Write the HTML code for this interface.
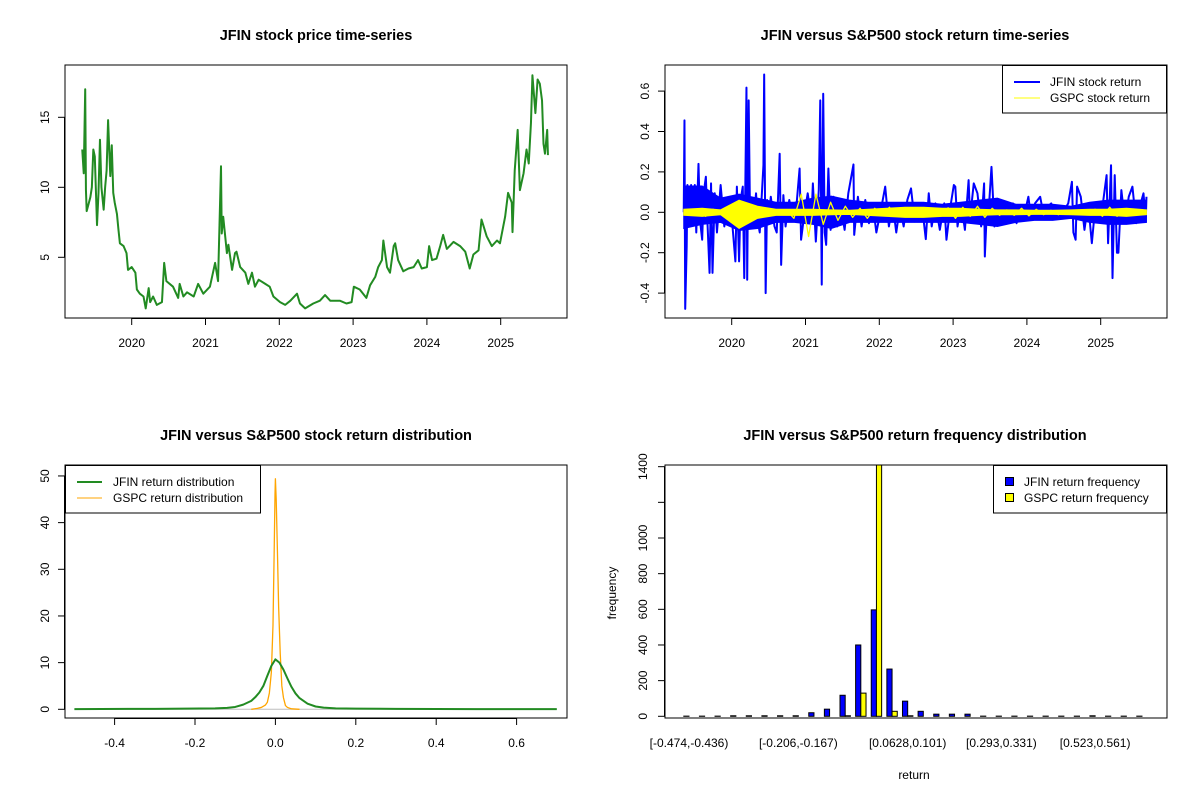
<!DOCTYPE html>
<html><head><meta charset="utf-8"><style>
html,body{margin:0;padding:0;background:#fff;}
svg{display:block;font-family:"Liberation Sans",Arial,sans-serif;}
</style></head><body>
<svg id="c" width="1200" height="800" viewBox="0 0 1200 800" xmlns="http://www.w3.org/2000/svg">
<rect width="1200" height="800" fill="#fff"/>
</svg>
<script>
// ---------- Panel 1: price ----------
const priceYears=[2019.33,2019.35,2019.37,2019.38,2019.39,2019.44,2019.46,2019.48,2019.50,2019.53,2019.55,2019.57,2019.59,2019.62,2019.64,2019.66,2019.68,2019.71,2019.73,2019.75,2019.77,2019.80,2019.82,2019.84,2019.89,2019.93,2019.95,2020.00,2020.05,2020.07,2020.11,2020.16,2020.19,2020.23,2020.25,2020.29,2020.34,2020.41,2020.44,2020.47,2020.56,2020.63,2020.65,2020.70,2020.75,2020.84,2020.90,2020.97,2021.06,2021.13,2021.17,2021.21,2021.22,2021.24,2021.29,2021.31,2021.36,2021.40,2021.42,2021.47,2021.54,2021.58,2021.63,2021.67,2021.72,2021.81,2021.87,2021.92,2022.01,2022.08,2022.15,2022.24,2022.28,2022.35,2022.46,2022.55,2022.62,2022.69,2022.82,2022.91,2022.98,2023.01,2023.09,2023.18,2023.23,2023.30,2023.34,2023.39,2023.41,2023.46,2023.50,2023.55,2023.57,2023.61,2023.68,2023.75,2023.82,2023.88,2023.93,2024.00,2024.03,2024.07,2024.13,2024.18,2024.22,2024.27,2024.36,2024.45,2024.52,2024.58,2024.63,2024.70,2024.74,2024.81,2024.88,2024.95,2024.99,2025.06,2025.10,2025.15,2025.16,2025.19,2025.23,2025.26,2025.31,2025.35,2025.38,2025.41,2025.43,2025.47,2025.50,2025.53,2025.56,2025.58,2025.60,2025.63,2025.64];
const priceValues=[12.7,11.0,17.0,9.8,8.3,9.3,10.0,12.7,12.2,7.3,9.6,13.4,10.0,8.4,10.0,11.2,14.8,10.8,13.0,9.6,8.9,8.1,7.0,6.0,5.8,5.3,4.1,4.3,3.9,2.7,2.4,2.2,1.35,2.8,1.8,2.2,1.6,1.8,4.6,3.3,2.9,2.1,3.1,2.2,2.5,2.2,3.1,2.4,2.9,4.6,3.3,11.5,6.7,7.9,5.3,5.9,4.1,5.3,5.4,4.3,3.9,3.1,3.9,2.9,3.4,3.1,2.9,2.2,1.8,1.6,1.9,2.4,1.7,1.35,1.7,1.9,2.3,1.9,1.9,1.7,1.8,2.9,2.7,2.1,3.0,3.6,4.3,4.8,6.2,4.3,3.9,5.8,6.0,4.8,4.0,4.2,4.3,4.8,4.2,4.3,5.8,4.8,4.9,5.8,6.6,5.6,6.1,5.8,5.4,4.2,5.2,5.5,7.7,6.5,5.8,6.2,6.0,7.9,9.6,8.9,6.8,11.2,14.1,9.8,11.0,12.7,11.7,14.6,18.0,15.3,17.7,17.4,16.2,13.1,12.4,14.1,12.3];
const priceYTicks=[5,10,15];
const yearTicks=[2020,2021,2022,2023,2024,2025];

// ---------- Panel 2: returns ----------
const jfinRetYears=[2019.35,2019.36,2019.37,2019.39,2019.40,2019.42,2019.45,2019.47,2019.50,2019.52,2019.55,2019.57,2019.60,2019.62,2019.65,2019.67,2019.70,2019.72,2019.74,2019.77,2019.80,2019.85,2019.90,2019.95,2020.00,2020.05,2020.07,2020.10,2020.12,2020.15,2020.17,2020.20,2020.21,2020.23,2020.25,2020.28,2020.30,2020.33,2020.35,2020.38,2020.43,2020.44,2020.46,2020.48,2020.50,2020.53,2020.58,2020.61,2020.65,2020.67,2020.70,2020.73,2020.78,2020.83,2020.88,2020.92,2020.94,2020.98,2021.03,2021.08,2021.10,2021.14,2021.18,2021.20,2021.22,2021.24,2021.26,2021.28,2021.31,2021.34,2021.38,2021.43,2021.48,2021.53,2021.58,2021.65,2021.66,2021.71,2021.76,2021.81,2021.86,2021.91,2021.96,2022.03,2022.08,2022.13,2022.18,2022.23,2022.28,2022.33,2022.38,2022.43,2022.48,2022.53,2022.58,2022.63,2022.67,2022.71,2022.76,2022.82,2022.88,2022.91,2022.96,2023.01,2023.03,2023.06,2023.11,2023.16,2023.21,2023.23,2023.28,2023.33,2023.38,2023.42,2023.43,2023.46,2023.49,2023.52,2023.56,2023.61,2023.66,2023.71,2023.76,2023.81,2023.86,2023.91,2023.96,2024.02,2024.06,2024.11,2024.18,2024.23,2024.28,2024.33,2024.38,2024.43,2024.48,2024.56,2024.61,2024.63,2024.66,2024.68,2024.73,2024.78,2024.83,2024.88,2024.93,2024.98,2025.03,2025.08,2025.10,2025.14,2025.16,2025.19,2025.22,2025.24,2025.28,2025.33,2025.38,2025.43,2025.48,2025.53,2025.58,2025.61,2025.62];
const jfinRetValues=[0.0,0.455,-0.478,-0.17,0.135,-0.054,0.135,-0.038,0.135,-0.10,0.24,-0.038,-0.136,0.094,0.176,-0.038,-0.30,0.143,-0.30,0.094,-0.10,0.135,-0.07,0.053,-0.021,-0.243,0.127,-0.243,0.061,0.127,-0.326,0.617,-0.334,0.554,-0.07,0.061,-0.021,0.094,-0.038,-0.10,0.233,0.682,-0.40,0.061,-0.038,0.077,-0.07,-0.10,0.29,-0.26,0.085,-0.07,0.061,-0.038,0.044,0.217,-0.136,-0.021,0.094,-0.038,0.143,-0.145,0.11,0.554,-0.358,0.587,-0.10,-0.161,0.217,-0.087,0.077,-0.07,0.028,-0.087,0.094,0.237,-0.112,0.077,-0.07,0.061,-0.054,0.044,-0.10,0.028,0.127,-0.07,0.044,-0.10,0.028,-0.07,0.061,0.118,-0.046,0.028,0.028,-0.133,0.094,-0.07,0.044,-0.087,0.044,-0.136,0.02,0.135,0.127,-0.07,0.044,-0.087,0.159,-0.03,0.143,0.094,-0.07,0.143,-0.219,0.028,0.053,0.225,-0.07,0.044,-0.038,0.028,-0.038,0.044,-0.054,0.028,-0.021,0.077,-0.038,0.044,0.077,-0.021,0.028,0.044,-0.021,0.028,-0.005,0.044,0.151,-0.10,-0.136,0.127,0.077,-0.087,0.044,-0.153,0.044,-0.03,0.044,0.184,-0.153,0.233,-0.326,0.184,-0.20,-0.20,0.11,-0.054,0.077,0.127,-0.054,0.028,0.094,-0.046,0.077];
// dense band envelopes (quarterly)
const bandYears=[2019.35,2019.6,2019.85,2020.1,2020.35,2020.6,2020.85,2021.1,2021.35,2021.6,2021.85,2022.1,2022.35,2022.6,2022.85,2023.1,2023.35,2023.6,2023.85,2024.1,2024.35,2024.6,2024.85,2025.1,2025.35,2025.62];
const jfinBandUpper=[0.13,0.13,0.07,0.09,0.07,0.05,0.05,0.07,0.08,0.06,0.05,0.05,0.05,0.05,0.04,0.05,0.06,0.07,0.04,0.04,0.04,0.03,0.05,0.06,0.06,0.06];
const jfinBandLower=[-0.08,-0.06,-0.05,-0.09,-0.08,-0.05,-0.05,-0.06,-0.08,-0.05,-0.05,-0.05,-0.05,-0.05,-0.05,-0.05,-0.06,-0.07,-0.05,-0.04,-0.04,-0.03,-0.05,-0.06,-0.06,-0.05];
const gspcBandUpper=[0.015,0.02,0.012,0.06,0.03,0.015,0.015,0.015,0.012,0.01,0.015,0.02,0.025,0.025,0.02,0.02,0.015,0.012,0.012,0.01,0.01,0.012,0.015,0.015,0.02,0.012];
const gspcBandLower=[-0.015,-0.02,-0.012,-0.08,-0.03,-0.015,-0.015,-0.015,-0.012,-0.01,-0.015,-0.02,-0.025,-0.025,-0.02,-0.02,-0.015,-0.012,-0.012,-0.01,-0.01,-0.012,-0.015,-0.015,-0.02,-0.012];
const gspcRetValues=[0.0,-0.015,0.012,-0.02,0.015,-0.01,0.018,-0.025,0.01,-0.015,0.012,-0.01,0.015,-0.012,0.01,-0.03,0.09,-0.12,0.09,-0.06,0.05,-0.04,0.03,-0.025,0.02,-0.03,0.02,-0.015,0.025,-0.02,0.015,-0.02,0.02,-0.015,0.018,-0.02,0.022,-0.03,0.025,-0.02,0.03,-0.025,0.02,-0.015,0.012,-0.015,0.02,-0.018,0.015,-0.012,0.01,-0.012,0.01,-0.01,0.012,-0.012,0.015,-0.02,0.025,-0.02,0.015,-0.012,0.012,-0.01];
const retYTicks=[-0.4,-0.2,0.0,0.2,0.4,0.6];

// ---------- Panel 3: density ----------
const jfinDensX=[-0.5,-0.3,-0.15,-0.12,-0.1,-0.08,-0.06,-0.05,-0.04,-0.03,-0.02,-0.01,0.0,0.01,0.02,0.03,0.04,0.05,0.06,0.08,0.1,0.12,0.15,0.2,0.3,0.5,0.7];
const jfinDensY=[0.05,0.1,0.2,0.3,0.5,1.0,1.8,2.6,3.6,5.0,7.2,9.3,10.7,10.0,8.5,6.6,4.8,3.4,2.4,1.2,0.6,0.35,0.2,0.15,0.1,0.05,0.05];
const gspcDensX=[-0.06,-0.045,-0.035,-0.025,-0.02,-0.015,-0.01,-0.006,-0.003,-0.001,0.0,0.002,0.005,0.008,0.012,0.016,0.02,0.025,0.03,0.04,0.06];
const gspcDensY=[0.0,0.2,0.4,0.9,1.5,3.5,8.0,18.0,34.0,46.0,49.4,45.0,34.0,22.0,12.0,5.0,2.5,0.8,0.4,0.1,0.0];
const densXTicks=[-0.4,-0.2,0.0,0.2,0.4,0.6];
const densYTicks=[0,10,20,30,40,50];

// ---------- Panel 4: histogram ----------
const binLabels=["[-0.474,-0.436)","","","","","","","[-0.206,-0.167)","","","","","","","[0.0628,0.101)","","","","","","[0.293,0.331)","","","","","","[0.523,0.561)","","",""];
const jfinCounts=[1,1,1,3,3,3,3,3,20,40,118,400,597,265,85,28,12,12,12,1,1,1,1,1,1,1,3,1,1,1];
const gspcCounts=[0,0,0,0,0,0,0,0,0,0,3,130,1500,28,3,0,0,0,0,0,0,0,0,0,0,0,0,0,0,0];
const freqYTicks=[0,200,400,600,800,1000,1200,1400];
const freqYLabels=["0","200","400","600","800","1000","","1400"];

const NS="http://www.w3.org/2000/svg";
const svg=document.getElementById('c');
function mk(tag,attrs,parent){const e=document.createElementNS(NS,tag);for(const k in attrs)e.setAttribute(k,attrs[k]);(parent||svg).appendChild(e);return e;}
function txt(s,x,y,opts,parent){const e=mk('text',Object.assign({x:x,y:y,'font-size':12,'text-anchor':'middle',fill:'#000'},opts||{}),parent);e.textContent=s;return e;}

function panel(name){
  const g=mk('g',{});
  
  
  return g;
}
function box(g,L,T,R,B){
  const r=mk('rect',{x:L,y:T,width:R-L,height:B-T,fill:'none',stroke:'#000','stroke-width':1},g);
  
  
}
function yAxis(g,L,ticks,labels,sy,lx){
  const a=mk('g',{},g);
  
  
  const ys=ticks.map(sy);
  mk('line',{x1:L-0.5,x2:L-0.5,y1:ys[0],y2:ys[ys.length-1],stroke:'#000'},a);
  ticks.forEach((t,i)=>{const y=sy(t);mk('line',{x1:L-7,x2:L,y1:y,y2:y,stroke:'#000'},a);
    if(labels[i]!==''){const e=txt(labels[i],lx,y,{transform:`rotate(-90 ${lx} ${y})`},a);
    
    }});
}
function xAxis(g,B,ticks,labels,sx,ly){
  const a=mk('g',{},g);
  
  
  const xs=ticks.map(sx);
  mk('line',{x1:xs[0],x2:xs[xs.length-1],y1:B+0.5,y2:B+0.5,stroke:'#000'},a);
  ticks.forEach((t,i)=>{const x=sx(t);mk('line',{x1:x,x2:x,y1:B,y2:B+7,stroke:'#000'},a);
    const e=txt(labels[i],x,ly,{},a);
    
    });
}
function title(g,s,x,y){const e=txt(s,x,y,{'font-size':14.5,'font-weight':'bold'},g);
  
  }
function path(g,xs,ys,color,w,name){
  let d='';xs.forEach((x,i)=>{d+=(i?'L':'M')+x.toFixed(2)+' '+ys[i].toFixed(2);});
  const p=mk('path',{d:d,fill:'none',stroke:color,'stroke-width':w,'stroke-linejoin':'round'},g);
  
  
  return p;
}
function band(g,xs,up,lo,color,name){
  let d='';xs.forEach((x,i)=>{d+=(i?'L':'M')+x.toFixed(2)+' '+up[i].toFixed(2);});
  for(let i=xs.length-1;i>=0;i--)d+='L'+xs[i].toFixed(2)+' '+lo[i].toFixed(2);
  const p=mk('path',{d:d+'Z',fill:color,stroke:color,'stroke-width':1},g);
  
  
}

// Panel 1
(function(){
  const L=65,T=65,R=567,B=318;
  const sx=y=>131.7+(y-2020)*73.8, sy=v=>327.3-v*14;
  const g=panel('price-panel');
  title(g,'JFIN stock price time-series',316,40);
  path(g,priceYears.map(sx),priceValues.map(sy),'#228B22',2,'jfin-price-line');
  box(g,L,T,R,B);
  yAxis(g,L,priceYTicks,priceYTicks.map(String),sy,49);
  xAxis(g,B,yearTicks,yearTicks.map(String),sx,347);
})();

// Panel 2
(function(){
  const L=665,T=65,R=1167,B=318;
  const sx=y=>731.7+(y-2020)*73.8, sy=v=>212.3-v*202;
  const g=panel('return-panel');
  title(g,'JFIN versus S&P500 stock return time-series',915,40);
  band(g,bandYears.map(sx),jfinBandUpper.map(sy),jfinBandLower.map(sy),'#0000FF','jfin-return-band');
  path(g,jfinRetYears.map(sx),jfinRetValues.map(sy),'#0000FF',2,'jfin-return-line');
  band(g,bandYears.map(sx),gspcBandUpper.map(sy),gspcBandLower.map(sy),'#FFFF00','gspc-return-band');
  const n=gspcRetValues.length, y0=2019.35, y1=2025.62;
  const gd=gspcRetValues.map((v,i)=>y0+(y1-y0)*i/(n-1));
  path(g,gd.map(sx),gspcRetValues.map(sy),'#FFFF00',1.3,'gspc-return-line');
  box(g,L,T,R,B);
  yAxis(g,L,retYTicks,retYTicks.map(v=>v.toFixed(1)),sy,649);
  xAxis(g,B,yearTicks,yearTicks.map(String),sx,347);
  const lg=mk('g',{},g);
  
  
  mk('rect',{x:1002.5,y:65.5,width:164,height:47.5,fill:'#fff',stroke:'#000'},lg);
  mk('line',{x1:1014,x2:1040,y1:82,y2:82,stroke:'#0000FF','stroke-width':2},lg);
  mk('line',{x1:1014,x2:1040,y1:98,y2:98,stroke:'#FFFF00','stroke-width':1},lg);
  let e=txt('JFIN stock return',1050,86,{'text-anchor':'start'},lg);
  
  
  e=txt('GSPC stock return',1050,102,{'text-anchor':'start'},lg);
  
  
})();

// Panel 3
(function(){
  const L=65,T=465,R=567,B=718;
  const sx=v=>275.4+v*402, sy=v=>709.3-v*4.667;
  const g=panel('density-panel');
  title(g,'JFIN versus S&P500 stock return distribution',316,440);
  const bl=mk('line',{x1:sx(-0.5),x2:sx(0.7),y1:sy(0),y2:sy(0),stroke:'#BEBEBE','stroke-width':1},g);
  
  
  path(g,gspcDensX.map(sx),gspcDensY.map(sy),'#FFA500',1.3,'gspc-density-line');
  path(g,jfinDensX.map(sx),jfinDensY.map(sy),'#228B22',2,'jfin-density-line');
  box(g,L,T,R,B);
  yAxis(g,L,densYTicks,densYTicks.map(String),sy,49);
  xAxis(g,B,densXTicks,densXTicks.map(v=>v.toFixed(1)),sx,747);
  const lg=mk('g',{},g);
  
  
  mk('rect',{x:65.5,y:465.5,width:195,height:47.5,fill:'#fff',stroke:'#000'},lg);
  mk('line',{x1:77,x2:102,y1:482,y2:482,stroke:'#228B22','stroke-width':2},lg);
  mk('line',{x1:77,x2:102,y1:498,y2:498,stroke:'#FFA500','stroke-width':1},lg);
  let e=txt('JFIN return distribution',113,486,{'text-anchor':'start'},lg);
  
  
  e=txt('GSPC return distribution',113,502,{'text-anchor':'start'},lg);
  
  
})();

// Panel 4
(function(){
  const L=665,T=465,R=1167,B=718;
  const gc=i=>689+i*15.62, bw=5.2, sy=v=>716.3-v*0.1783;
  const g=panel('histogram-panel');
  title(g,'JFIN versus S&P500 return frequency distribution',915,440);
  const cp=mk('clipPath',{id:'clip4'},g);
  mk('rect',{x:L,y:T,width:R-L,height:B-T},cp);
  const bars=mk('g',{'clip-path':'url(#clip4)'},g);
  
  
  jfinCounts.forEach((v,i)=>{
    const y=sy(v);
    const r=mk('rect',{x:gc(i)-bw,y:y,width:bw,height:Math.max(sy(0)-y,0),fill:'#0000FF',stroke:'#000','stroke-width':1},bars);
    
    
  });
  gspcCounts.forEach((v,i)=>{
    const y=sy(v);
    const r=mk('rect',{x:gc(i),y:y,width:bw,height:Math.max(sy(0)-y,0),fill:'#FFFF00',stroke:'#000','stroke-width':1},bars);
    
    
  });
  box(g,L,T,R,B);
  yAxis(g,L,freqYTicks,freqYLabels,sy,647);
  binLabels.forEach((s,i)=>{if(s){const e=txt(s,gc(i),747,{},g);
    
    }});
  let e=txt('frequency',616,593,{transform:'rotate(-90 616 593)'},g);
  
  
  e=txt('return',914,779,{},g);
  
  
  const lg=mk('g',{},g);
  
  
  mk('rect',{x:993.5,y:465.5,width:173,height:47.5,fill:'#fff',stroke:'#000'},lg);
  mk('rect',{x:1005.5,y:477.5,width:8,height:8,fill:'#0000FF',stroke:'#000'},lg);
  mk('rect',{x:1005.5,y:493.5,width:8,height:8,fill:'#FFFF00',stroke:'#000'},lg);
  e=txt('JFIN return frequency',1024,486,{'text-anchor':'start'},lg);
  
  
  e=txt('GSPC return frequency',1024,502,{'text-anchor':'start'},lg);
  
  
})();
</script>
</body></html>
